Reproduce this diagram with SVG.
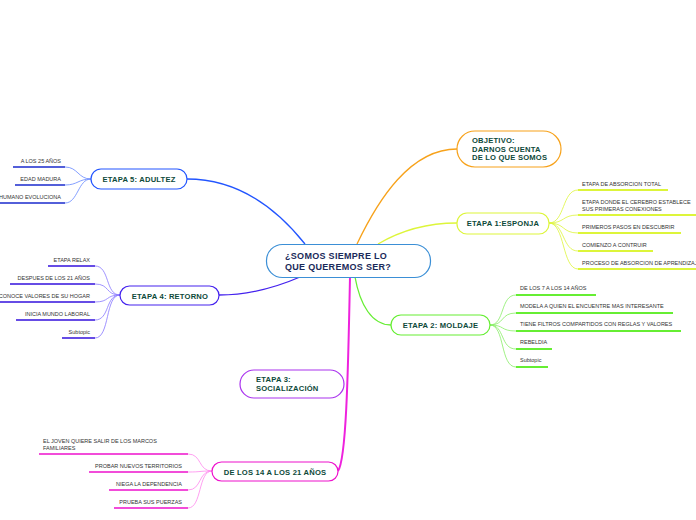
<svg xmlns="http://www.w3.org/2000/svg" width="696" height="520" viewBox="0 0 696 520">
<style>
.nt{font-family:"Liberation Sans",Arial,sans-serif;font-weight:bold;font-size:7.6px;fill:#0d4a3a;letter-spacing:0.2px}
.ct{font-family:"Liberation Sans",Arial,sans-serif;font-weight:bold;font-size:9px;fill:#1a2a5a;letter-spacing:0.3px}
.st{font-family:"Liberation Sans",Arial,sans-serif;font-size:5.5px;fill:#333}
.box{fill:#fff;stroke-width:1.2}
.c{fill:none}
</style>
<rect width="696" height="520" fill="#fff"/>
<g id="connectors">
  <path class="c" d="M357,244 C378,200 410,149 457,149" stroke="#f7a21b" stroke-width="1.3"/>
  <path class="c" d="M378,244 C400,231 425,223 457,223" stroke="#ddf53a" stroke-width="1.3"/>
  <path class="c" d="M355,277 C360,305 372,325 391,325" stroke="#66ee33" stroke-width="1.3"/>
  <path class="c" d="M305,244 C270,200 230,179 187,179" stroke="#2255ff" stroke-width="1.3"/>
  <path class="c" d="M300,277 C270,290 245,295 219,295" stroke="#4422ee" stroke-width="1.3"/>
  <path class="c" d="M350,277 C348,380 346,460 338,471" stroke="#ee22dd" stroke-width="2"/>
  <g stroke="#ddf53a" stroke-width="0.8" class="c">
    <path d="M549,223 C565,223 562,190 578,190"/>
    <path d="M549,223 C565,223 562,215 578,215"/>
    <path d="M549,223 C565,223 562,233 578,233"/>
    <path d="M549,223 C565,223 562,251 578,251"/>
    <path d="M549,223 C565,223 562,269 578,269"/>
  </g>
  <g stroke="#ddf53a" stroke-width="2" class="c">
    <path d="M578,190 H668"/><path d="M578,215 H696"/><path d="M578,233 H681"/><path d="M578,251 H653"/><path d="M578,269 H696"/>
  </g>
  <g stroke="#88ee66" stroke-width="0.8" class="c">
    <path d="M490,325 C505,325 500,295 516,295"/>
    <path d="M490,325 C505,325 500,313 516,313"/>
    <path d="M490,325 C505,325 500,331 516,331"/>
    <path d="M490,325 C505,325 500,349 516,349"/>
    <path d="M490,325 C505,325 500,367 516,367"/>
  </g>
  <g stroke="#66ee33" stroke-width="2" class="c">
    <path d="M516,295 H596"/><path d="M516,313 H673"/><path d="M516,331 H681"/><path d="M516,349 H552"/><path d="M516,367 H548"/>
  </g>
  <g stroke="#6688ff" stroke-width="0.8" class="c">
    <path d="M91,179 C78,179 78,167 65,167"/>
    <path d="M91,179 C78,179 78,185 65,185"/>
    <path d="M91,179 C78,179 78,203 65,203"/>
  </g>
  <g stroke="#1a2acc" stroke-width="1.5" class="c">
    <path d="M13,167 H65"/><path d="M15,185 H65"/><path d="M0,203 H65"/>
  </g>
  <g stroke="#8877ff" stroke-width="0.8" class="c">
    <path d="M120,295 C105,295 110,266 95,266"/>
    <path d="M120,295 C105,295 110,284 95,284"/>
    <path d="M120,295 C105,295 110,302 95,302"/>
    <path d="M120,295 C105,295 110,320 95,320"/>
    <path d="M120,295 C105,295 110,338 95,338"/>
  </g>
  <g stroke="#3311dd" stroke-width="1.5" class="c">
    <path d="M48,266 H95"/><path d="M10,284 H95"/><path d="M0,302 H95"/><path d="M16,320 H95"/><path d="M62,338 H95"/>
  </g>
  <g stroke="#ff88ee" stroke-width="0.8" class="c">
    <path d="M212,471 C198,471 202,454 188,454"/>
    <path d="M212,471 C198,471 202,472 188,472"/>
    <path d="M212,471 C198,471 202,490 188,490"/>
    <path d="M212,471 C198,471 202,508 188,508"/>
  </g>
  <g stroke="#ee11cc" stroke-width="1.5" class="c">
    <path d="M39,454 H188"/><path d="M89,472 H188"/><path d="M109,490 H188"/><path d="M114,508 H188"/>
  </g>
</g>
<g id="central">
  <rect class="box" x="266.5" y="244.5" width="164" height="33" rx="16" stroke="#3b8fd6"/>
  <text class="ct" x="285" y="259">¿SOMOS SIEMPRE LO</text>
  <text class="ct" x="285" y="270">QUE QUEREMOS SER?</text>
</g>
<g id="objetivo">
  <rect class="box" x="457" y="131" width="104" height="36" rx="18" stroke="#f7a21b"/>
  <text class="nt" x="472" y="143">OBJETIVO:</text>
  <text class="nt" x="472" y="151.5">DARNOS CUENTA</text>
  <text class="nt" x="472" y="160">DE LO QUE SOMOS</text>
</g>
<g id="etapa1">
  <rect class="box" x="457" y="213" width="92" height="21" rx="10" stroke="#ddf53a"/>
  <text class="nt" x="503" y="226" text-anchor="middle">ETAPA 1:ESPONJA</text>
  <text class="st" x="582" y="186">ETAPA DE ABSORCION TOTAL</text>
  <text class="st" x="582" y="204">ETAPA DONDE EL CEREBRO ESTABLECE</text>
  <text class="st" x="582" y="211">SUS PRIMERAS CONEXIONES</text>
  <text class="st" x="582" y="229">PRIMEROS PASOS EN DESCUBRIR</text>
  <text class="st" x="582" y="247">COMIENZO A CONTRUIR</text>
  <text class="st" x="582" y="265">PROCESO DE ABSORCION DE APRENDIZAJE</text>
</g>
<g id="etapa2">
  <rect class="box" x="391" y="315" width="99" height="20" rx="10" stroke="#66ee33"/>
  <text class="nt" x="440.5" y="328" text-anchor="middle">ETAPA 2: MOLDAJE</text>
  <text class="st" x="520" y="290">DE LOS 7 A LOS 14 AÑOS</text>
  <text class="st" x="520" y="308">MODELA A QUIEN EL ENCUENTRE MAS INTERESANTE</text>
  <text class="st" x="520" y="326">TIENE FILTROS COMPARTIDOS CON REGLAS Y VALORES</text>
  <text class="st" x="520" y="344">REBELDIA</text>
  <text class="st" x="520" y="362">Subtopic</text>
</g>
<g id="etapa5">
  <rect class="box" x="91" y="169" width="96" height="20" rx="10" stroke="#2255ff"/>
  <text class="nt" x="139" y="182" text-anchor="middle">ETAPA 5: ADULTEZ</text>
  <text class="st" x="61" y="163" text-anchor="end">A LOS 25 AÑOS</text>
  <text class="st" x="61" y="181" text-anchor="end">EDAD MADURA</text>
  <text class="st" x="61" y="199" text-anchor="end">HUMANO EVOLUCIONA</text>
</g>
<g id="etapa4">
  <rect class="box" x="120" y="286" width="99" height="19" rx="9.5" stroke="#4422ee"/>
  <text class="nt" x="170" y="298.5" text-anchor="middle">ETAPA 4: RETORNO</text>
  <text class="st" x="90" y="262" text-anchor="end">ETAPA RELAX</text>
  <text class="st" x="90" y="280" text-anchor="end">DESPUES DE LOS 21 AÑOS</text>
  <text class="st" x="90" y="298" text-anchor="end">RECONOCE VALORES DE SU HOGAR</text>
  <text class="st" x="90" y="316" text-anchor="end">INICIA MUNDO LABORAL</text>
  <text class="st" x="90" y="334" text-anchor="end">Subtopic</text>
</g>
<g id="etapa3">
  <rect class="box" x="240" y="370" width="104" height="28" rx="14" stroke="#aa33ee"/>
  <text class="nt" x="256" y="382">ETAPA 3:</text>
  <text class="nt" x="256" y="391">SOCIALIZACIÓN</text>
</g>
<g id="etapa14a21">
  <rect class="box" x="212" y="462" width="126" height="19" rx="9.5" stroke="#ee11cc"/>
  <text class="nt" x="275" y="474.5" text-anchor="middle">DE LOS 14 A LOS 21 AÑOS</text>
  <text class="st" x="43" y="443">EL JOVEN QUIERE SALIR DE LOS MARCOS</text>
  <text class="st" x="43" y="450">FAMILIARES</text>
  <text class="st" x="182" y="468" text-anchor="end">PROBAR NUEVOS TERRITORIOS</text>
  <text class="st" x="182" y="486" text-anchor="end">NIEGA LA DEPENDENCIA</text>
  <text class="st" x="182" y="504" text-anchor="end">PRUEBA SUS PUERZAS</text>
</g>
</svg>
